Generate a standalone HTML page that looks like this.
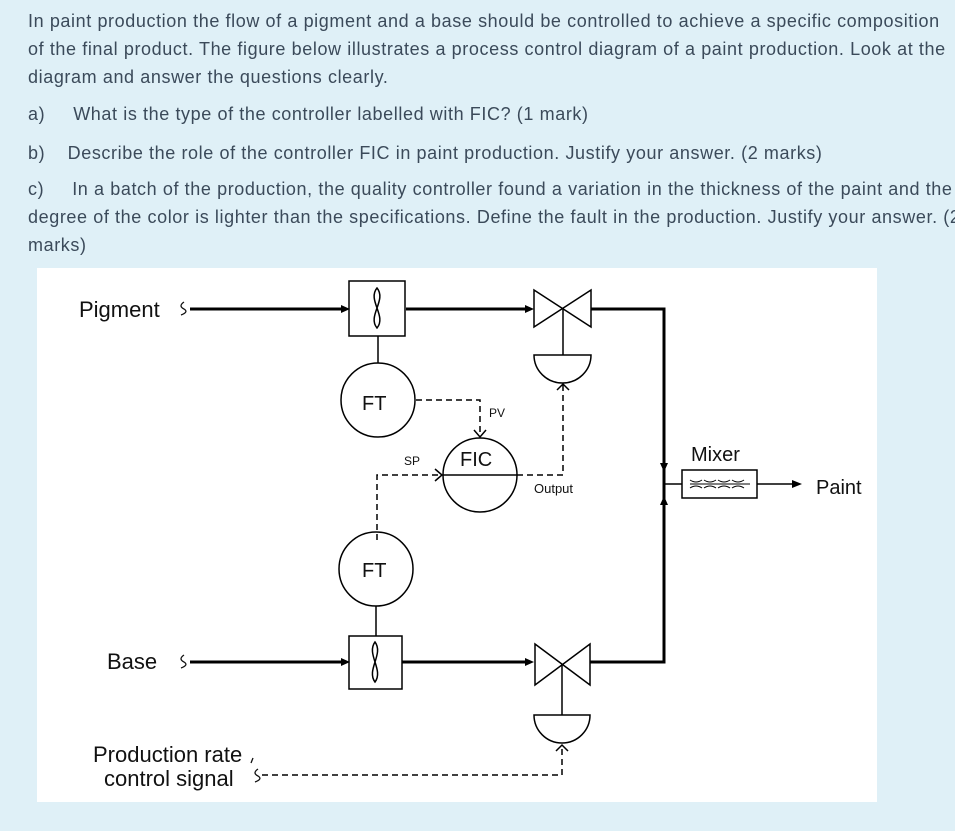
<!DOCTYPE html>
<html><head><style>
body{margin:0;width:955px;height:831px;background:#dff0f7;font-family:"Liberation Sans",sans-serif;overflow:hidden;position:relative}
.t{position:absolute;left:28px;color:#3b4a5a;font-size:18px;letter-spacing:0.6px;line-height:28px;white-space:nowrap}
svg{position:absolute;left:0;top:0}
</style></head><body>
<div class="t" style="top:7px">In paint production the flow of a pigment and a base should be controlled to achieve a specific composition<br>of the final product. The figure below illustrates a process control diagram of a paint production. Look at the<br>diagram and answer the questions clearly.</div>
<div class="t" style="top:100px">a)&nbsp;&nbsp;&nbsp;&nbsp;&nbsp;What is the type of the controller labelled with FIC? (1 mark)</div>
<div class="t" style="top:139px">b)&nbsp;&nbsp;&nbsp;&nbsp;Describe the role of the controller FIC in paint production. Justify your answer. (2 marks)</div>
<div class="t" style="top:175px">c)&nbsp;&nbsp;&nbsp;&nbsp;&nbsp;In a batch of the production, the quality controller found a variation in the thickness of the paint and the<br>degree of the color is lighter than the specifications. Define the fault in the production. Justify your answer. (2<br>marks)</div>
<svg width="955" height="831" viewBox="0 0 955 831" font-family="Liberation Sans, Arial, sans-serif">
<rect x="37" y="268" width="840" height="534" fill="#fff"/>
<g fill="#111" font-size="22">
<text x="79" y="317">Pigment</text>
<text x="107" y="669">Base</text>
<text x="93" y="762">Production rate</text>
<text x="104" y="786">control signal</text>
<text x="691" y="461" font-size="20">Mixer</text>
<text x="816" y="494" font-size="20">Paint</text>
<text x="362" y="410" font-size="20">FT</text>
<text x="362" y="577" font-size="20">FT</text>
<text x="460" y="466" font-size="20">FIC</text>
<text x="404" y="465" font-size="12">SP</text>
<text x="489" y="417" font-size="12">PV</text>
<text x="534" y="493" font-size="13">Output</text>
</g>
<g fill="none" stroke="#111" stroke-width="1.3">
<path d="M184 302 q-6 4 0 7 q5 3 -3 6"/>
<path d="M184 655 q-6 4 0 7 q5 3 -3 6"/>
<path d="M258 769 q-6 4 0 7 q5 3 -3 6"/>
<path d="M253 758 l-2 5"/>
</g>
<g stroke="#000" stroke-width="3" fill="none">
<path d="M190 309 H344 M406 309 H528 M591 309 H664 V484"/>
<path d="M190 662 H344 M402 662 H528 M590 662 H664 V484"/>
</g>
<g fill="#000">
<path d="M350 309 l-9 -4 v8z M534 309 l-9 -4 v8z M350 662 l-9 -4 v8z M534 662 l-9 -4 v8z"/>
<path d="M664 472 l-4 -9 h8z M664 496 l-4 9 h8z M802 484 l-10 -4 v8z"/>
</g>
<g stroke="#000" stroke-width="1.5" fill="none">
<rect x="349" y="281" width="56" height="55"/>
<path d="M377 288 c-10 12 10 28 0 40 c-10 -12 10 -28 0 -40z"/>
<rect x="349" y="636" width="53" height="53"/>
<path d="M375 642 c-9 12 9 28 0 40 c-9 -12 9 -28 0 -40z"/>
<circle cx="378" cy="400" r="37"/>
<line x1="378" y1="336" x2="378" y2="363"/>
<circle cx="376" cy="569" r="37"/>
<line x1="376" y1="606" x2="376" y2="636"/>
<circle cx="480" cy="475" r="37"/>
<line x1="443" y1="475" x2="517" y2="475"/>
<path d="M534 290 L591 327 V290 L534 327Z"/>
<line x1="563" y1="309" x2="563" y2="355"/>
<path d="M534 355 H591 A28.5 28 0 0 1 534 355Z"/>
<path d="M535 644 L590 685 V644 L535 685Z"/>
<line x1="562" y1="664" x2="562" y2="715"/>
<path d="M534 715 H590 A28 28 0 0 1 534 715Z"/>
<rect x="682" y="470" width="75" height="28"/>
<line x1="664" y1="484" x2="682" y2="484"/><line x1="757" y1="484" x2="795" y2="484"/>
<g stroke-width="1">
<path d="M690 484 H750"/>
<path d="M690 480 q6 4 12 0 M690 488 q6 -4 12 0 M704 480 q6 4 12 0 M704 488 q6 -4 12 0 M718 480 q6 4 12 0 M718 488 q6 -4 12 0 M732 480 q6 4 12 0 M732 488 q6 -4 12 0"/>
</g>
</g>
<g stroke="#000" stroke-width="1.5" fill="none" stroke-dasharray="6 4">
<path d="M416 400 H480 V437"/>
<path d="M377 540 V475 H442"/>
<path d="M517 475 H563 V384"/>
<path d="M262 775 H562 V745"/>
</g>
<g stroke="#000" stroke-width="1.5" fill="none">
<path d="M474 430 l6 7 l6 -7 M435 469 l7 6 l-7 6 M557 390 l6 -6 l6 6 M556 751 l6 -6 l6 6"/>
</g>
</svg>
</body></html>
